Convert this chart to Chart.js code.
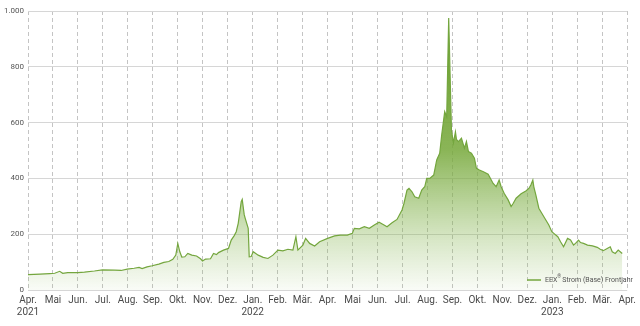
<!DOCTYPE html>
<html>
<head>
<meta charset="utf-8">
<script src="https://cdn.jsdelivr.net/npm/chart.js@4/dist/chart.umd.min.js"></script>
<style>
  html, body { margin: 0; padding: 0; background: #fff; }
  #wrap { width: 640px; height: 326px; }
</style>
</head>
<body>
<div id="wrap"><canvas id="priceChart" width="640" height="326"></canvas></div>
<script>
// month tick labels, Apr 2021 .. Apr 2023 (25 ticks)
var monthLabels = ['Apr.', 'Mai', 'Jun.', 'Jul.', 'Aug.', 'Sep.', 'Okt.', 'Nov.', 'Dez.', 'Jan.', 'Feb.', 'Mär.',
                   'Apr.', 'Mai', 'Jun.', 'Jul.', 'Aug.', 'Sep.', 'Okt.', 'Nov.', 'Dez.', 'Jan.', 'Feb.', 'Mär.', 'Apr.'];
var yearLabels = { 0: '2021', 9: '2022', 21: '2023' };
var yTicks = [0, 200, 400, 600, 800, 1000];

// position in months since 1 Apr 2021
var monthPos = [0, 0.48, 0.87, 1.07, 1.27, 1.39, 1.59, 1.99, 2.26, 2.66, 2.98, 3.46, 3.73, 3.97, 4.25, 4.45, 4.57, 4.77, 4.97,
  5.24, 5.44, 5.64, 5.80, 5.92, 6.00, 6.08, 6.16, 6.28, 6.40, 6.56, 6.75, 6.91, 6.99, 7.11, 7.31, 7.43, 7.55, 7.63, 7.83,
  8.03, 8.14, 8.26, 8.34, 8.42, 8.54, 8.58, 8.66, 8.70, 8.82, 8.86, 8.94, 9.02, 9.22, 9.42, 9.61, 9.81, 10.01, 10.21,
  10.41, 10.61, 10.73, 10.81, 11.01, 11.12, 11.28, 11.48, 11.68, 12.00, 12.28, 12.51, 12.79, 12.99, 13.07, 13.27, 13.47,
  13.67, 13.87, 14.06, 14.26, 14.38, 14.58, 14.78, 14.98, 15.06, 15.18, 15.26, 15.38, 15.49, 15.65, 15.77, 15.89, 15.97,
  16.09, 16.25, 16.37, 16.49, 16.57, 16.69, 16.77, 16.85, 16.96, 17.04, 17.12, 17.16, 17.24, 17.36, 17.48, 17.56, 17.64,
  17.76, 17.88, 17.96, 18.08, 18.24, 18.43, 18.63, 18.75, 18.87, 18.95, 19.07, 19.23, 19.35, 19.43, 19.55, 19.75, 19.94,
  20.06, 20.14, 20.22, 20.26, 20.34, 20.46, 20.62, 20.74, 20.86, 20.98, 21.06, 21.22, 21.33, 21.45, 21.61, 21.73, 21.85,
  21.93, 22.05, 22.13, 22.25, 22.41, 22.61, 22.80, 22.92, 23.04, 23.20, 23.32, 23.40, 23.52, 23.64, 23.80, 23.92];

// EEX Strom (Base) Frontjahr, EUR/MWh
var priceValues = [55, 57, 59, 60, 67, 60, 62, 62, 64, 68, 72, 71, 70, 75, 78, 81, 77, 83, 87,
  93, 99, 102, 110, 125, 167, 137, 118, 119, 131, 125, 122, 112, 104, 111, 112, 131, 127, 134, 143,
  149, 179, 195, 209, 239, 317, 325, 270, 257, 221, 119, 120, 137, 125, 117, 113, 125, 143, 140,
  146, 143, 191, 143, 161, 185, 167, 158, 173, 185, 194, 197, 197, 203, 221, 219, 227,
  221, 233, 243, 233, 227, 241, 253, 287, 311, 358, 364, 352, 334, 329, 358, 370, 400,
  400, 412, 466, 490, 556, 639, 621, 975, 573, 527, 567, 540, 532, 544, 508, 532, 496,
  490, 472, 436, 430, 424, 415, 382, 370, 394, 370, 347, 323, 299, 310, 329, 345,
  355, 364, 376, 394, 370, 341, 293, 269, 251, 233, 209, 203, 191, 173, 155, 185, 179,
  161, 167, 179, 170, 167, 161, 158, 153, 146, 141, 149, 155, 137, 131, 143, 131];

var seriesName = 'Strom (Base) Frontjahr';

var points = monthPos.map(function (m, i) {
    return { x: m, y: priceValues[i] };
});

function fmtThousands(v) {
    return String(v).replace(/\B(?=(\d{3})+(?!\d))/g, '.');
}

// legend drawn inside the plot, bottom right
var legendPlugin = {
    id: 'insideLegend',
    afterDraw: function (chart) {
        var ctx = chart.ctx;
        var area = chart.chartArea;
        var y = area.bottom - 10;
        var x0 = 527;
        ctx.save();
        ctx.strokeStyle = '#74a63e';
        ctx.lineWidth = 1.5;
        ctx.beginPath();
        ctx.moveTo(x0, y);
        ctx.lineTo(x0 + 14, y);
        ctx.stroke();
        ctx.fillStyle = '#555';
        ctx.textBaseline = 'middle';
        ctx.font = '7px Roboto';
        var x = x0 + 18;
        ctx.fillText('EEX', x, y);
        x += ctx.measureText('EEX').width;
        ctx.font = '5px Roboto';
        ctx.fillText('\u00AE', x, y - 3);
        x += ctx.measureText('\u00AE').width + 1;
        ctx.font = '7px Roboto';
        ctx.fillText(seriesName, x, y);
        ctx.restore();
    }
};

var ctx = document.getElementById('priceChart').getContext('2d');

new Chart(ctx, {
    type: 'line',
    data: {
        datasets: [{
            label: 'EEX\u00AE ' + seriesName,
            data: points,
            borderColor: '#74a63e',
            borderWidth: 1.2,
            pointRadius: 0,
            tension: 0,
            fill: 'origin',
            backgroundColor: function (c) {
                var area = c.chart.chartArea;
                if (!area) return 'rgba(122,171,68,0.4)';
                var g = c.chart.ctx.createLinearGradient(0, area.top, 0, area.bottom);
                g.addColorStop(0, 'rgba(100,154,38,1)');
                g.addColorStop(0.5, 'rgba(118,168,58,0.85)');
                g.addColorStop(0.8, 'rgba(130,178,75,0.35)');
                g.addColorStop(1, 'rgba(140,185,90,0.05)');
                return g;
            }
        }]
    },
    options: {
        responsive: false,
        animation: false,
        layout: { padding: { top: 11, right: 8, left: 0, bottom: 0 } },
        plugins: {
            legend: { display: false },
            tooltip: { enabled: false }
        },
        scales: {
            x: {
                type: 'linear',
                min: 0,
                max: 24,
                afterFit: function (s) { s.height = 36; },
                afterBuildTicks: function (s) {
                    s.ticks = monthLabels.map(function (l, i) { return { value: i }; });
                },
                border: { display: false, dash: [4, 3] },
                grid: {
                    color: '#c4c4c4',
                    drawTicks: false,
                    lineWidth: 1
                },
                ticks: {
                    autoSkip: false,
                    maxRotation: 0,
                    padding: 4,
                    color: '#4a4a4a',
                    font: { family: 'Roboto', size: 10 },
                    callback: function (v) {
                        var l = monthLabels[v];
                        return yearLabels[v] ? [l, yearLabels[v]] : l;
                    }
                }
            },
            y: {
                min: 0,
                max: 1000,
                afterFit: function (s) { s.width = 28; },
                afterBuildTicks: function (s) {
                    s.ticks = yTicks.map(function (v) { return { value: v }; });
                },
                border: { display: false },
                grid: {
                    color: '#d6d6d6',
                    drawTicks: false
                },
                ticks: {
                    padding: 4,
                    color: '#555',
                    font: { family: 'Roboto', size: 8 },
                    callback: function (v) { return fmtThousands(v); }
                }
            }
        }
    },
    plugins: [legendPlugin]
});
</script>
</body>
</html>
